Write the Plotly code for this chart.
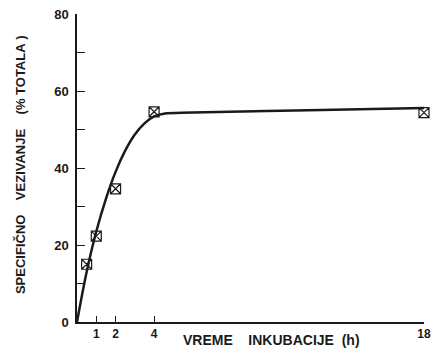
import plotly.graph_objects as go

# Measured binding (% of total) vs incubation time (h)
time_h = [0.5, 1, 2, 4, 18]
binding_pct = [15, 22.3, 34.6, 54.6, 54.4]

# Fitted saturation curve
curve_x = [0, 0.5, 1, 1.5, 2, 2.5, 3, 3.5, 4, 4.5, 6, 12, 18]
curve_y = [0, 13, 23.5, 32, 39, 44.5, 48.7, 51.6, 53.4, 54.1, 54.4, 55.0, 55.6]

x_ticks = [1, 2, 4, 18]
y_ticks = [0, 10, 20, 30, 40, 50, 60, 70, 80]
y_tick_labels = ["<b>0</b>", "", "<b>20</b>", "", "<b>40</b>", "", "<b>60</b>", "", "<b>80</b>"]

font_family = "Liberation Sans, Arial, sans-serif"
ink = "#1a1a1a"

fig = go.Figure()
fig.add_trace(go.Scatter(
    x=curve_x, y=curve_y, mode="lines",
    line=dict(color=ink, width=2.5, shape="spline", smoothing=1.0),
    hoverinfo="skip", showlegend=False,
))
fig.add_trace(go.Scatter(
    x=time_h, y=binding_pct, mode="markers", cliponaxis=False,
    marker=dict(symbol="square-x-open", size=10, color=ink, line=dict(width=1.2, color=ink)),
    showlegend=False,
))

fig.update_layout(
    width=438, height=357,
    margin=dict(l=77, r=7, t=10, b=35),
    paper_bgcolor="white", plot_bgcolor="white",
    font=dict(family=font_family, color=ink, size=12),
    xaxis=dict(
        range=[0, 18], showgrid=False, zeroline=False,
        showline=True, linecolor=ink, linewidth=1.5,
        tickmode="array", tickvals=x_ticks, ticktext=[f"<b>{v}</b>" for v in x_ticks],
        ticks="inside", ticklen=6, tickwidth=1.2, tickcolor=ink,
        tickfont=dict(size=12, family=font_family, color=ink),
    ),
    yaxis=dict(
        range=[0, 80], showgrid=False, zeroline=False,
        showline=True, linecolor=ink, linewidth=1.5,
        tickmode="array", tickvals=y_ticks, ticktext=y_tick_labels,
        ticks="inside", ticklen=8, tickwidth=1.2, tickcolor=ink,
        tickfont=dict(size=13, family=font_family, color=ink),
        ticklabelstandoff=4,
    ),
)

nb = "\u00a0"
fig.add_annotation(
    xref="paper", yref="paper", x=0.56, y=-0.058,
    text=f"<b>VREME{nb*4}INKUBACIJE{nb*2}(h)</b>", showarrow=False,
    font=dict(size=14, family=font_family, color=ink),
    xanchor="center", yanchor="middle",
)
fig.add_annotation(
    xref="paper", yref="paper", x=-0.161, y=0.51,
    text=f"<b>SPECIFIČNO{nb*4}VEZIVANJE{nb*4}(%{nb}TOTALA{nb})</b>",
    showarrow=False, textangle=-90,
    font=dict(size=13, family=font_family, color=ink),
    xanchor="center", yanchor="middle",
)

fig.write_html("out.html")
